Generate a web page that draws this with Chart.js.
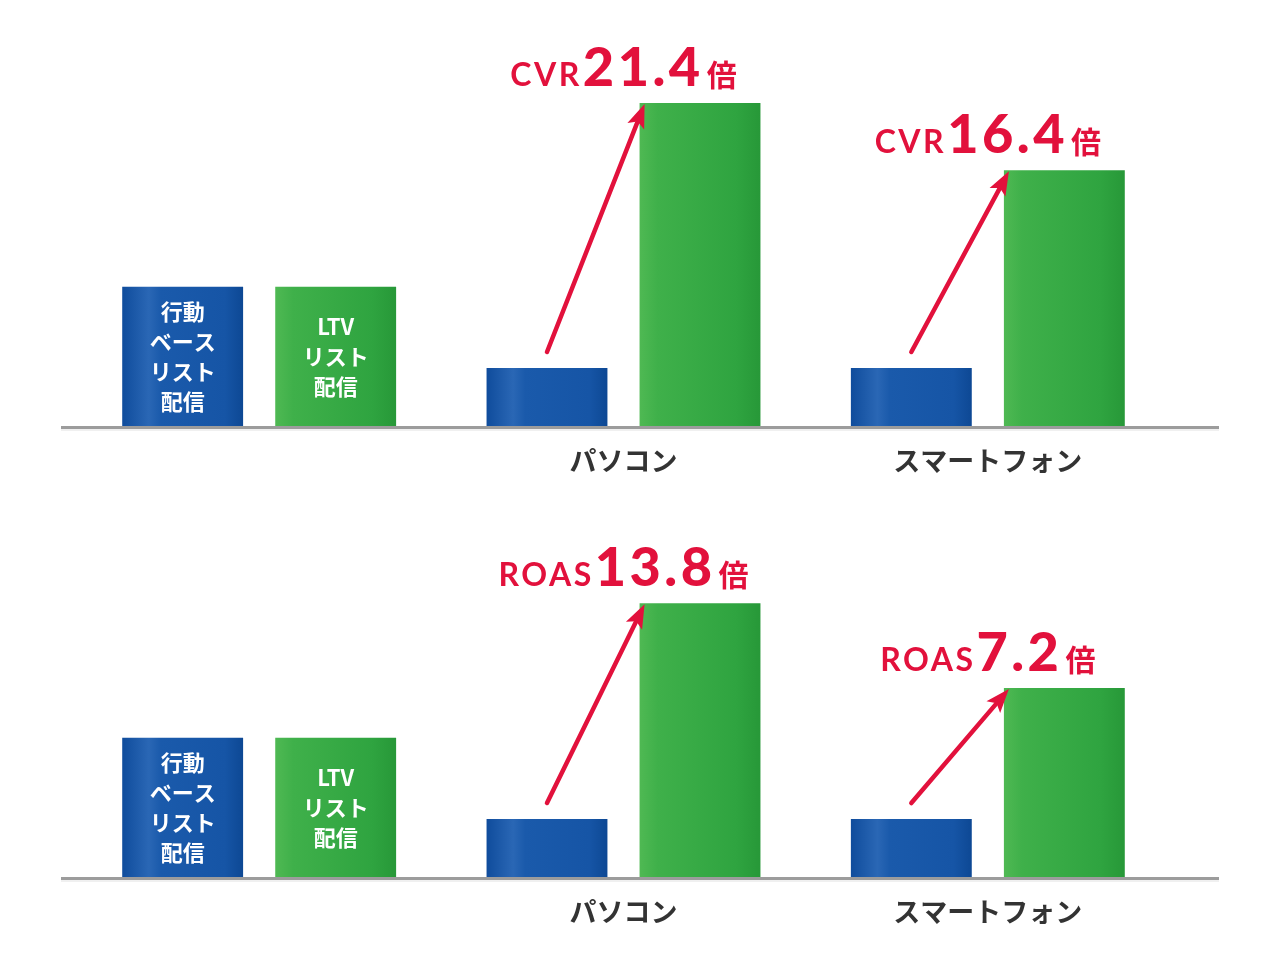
<!DOCTYPE html>
<html><head><meta charset="utf-8">
<script src="https://cdn.jsdelivr.net/npm/chart.js@4.4.1/dist/chart.umd.min.js"></script>
<style>
html,body{margin:0;padding:0;background:#fff;}
#wrap{position:relative;width:1280px;height:974px;overflow:hidden;}
canvas{position:absolute;left:0;}
#c1{top:0;} #c2{top:487px;}
</style></head>
<body><div id="wrap"><canvas id="c1" width="1280" height="487"></canvas><canvas id="c2" width="1280" height="487"></canvas></div>
<script>
// ---- data ----
const categories = ['', 'パソコン', 'スマートフォン'];
const baseSeriesName = '行動ベースリスト配信';
const ltvSeriesName = 'LTVリスト配信';
const cvrBase = [2.40, 1.00, 1.00];
const cvrLtv = [2.40, 5.57, 4.41];
const roasBase = [2.40, 1.00, 1.00];
const roasLtv = [2.40, 4.72, 3.26];
const cvrMetric = 'CVR';
const cvrMultipliers = ['', '21.4', '16.4'];
const roasMetric = 'ROAS';
const roasMultipliers = ['', '13.8', '7.2'];
const baseLabelLines = ['行動', 'ベース', 'リスト', '配信'];
const ltvLabelLines = ['LTV', 'リスト', '配信'];

const CAT_PCT = 0.84, BAR_PCT = 0.79;
const RED = '#e2113c';
const blueStops = [[0,'#0f4c9c'],[0.22,'#2a67b5'],[0.32,'#1a5aab'],[0.85,'#1655a6'],[1,'#0d4894']];
const greenStops = [[0,'#4fb953'],[0.15,'#3fb04a'],[0.8,'#2fa440'],[1,'#279838']];

function barGradient(ctx, dsIndex, stops) {
  const chart = ctx.chart, xs = chart.scales.x;
  if (ctx.dataIndex === undefined || !xs || !chart.chartArea) return stops[2][1];
  const catW = (xs.right - xs.left) / categories.length;
  const slot = catW * CAT_PCT / 2, bw = slot * BAR_PCT;
  const cx = xs.getPixelForValue(ctx.dataIndex) + (dsIndex === 0 ? -slot / 2 : slot / 2);
  const g = chart.ctx.createLinearGradient(cx - bw / 2, 0, cx + bw / 2, 0);
  stops.forEach(s => g.addColorStop(s[0], s[1]));
  return g;
}

const baselinePlugin = {
  id: 'baseline',
  beforeDatasetsDraw(chart) {
    const c = chart.ctx, y = chart.scales.y.getPixelForValue(0) + 1.5;
    c.save();
    c.strokeStyle = '#9c9c9c'; c.lineWidth = 3;
    c.beginPath(); c.moveTo(61, y); c.lineTo(1219, y); c.stroke();
    c.strokeStyle = 'rgba(0,0,0,0.06)'; c.lineWidth = 2;
    c.beginPath(); c.moveTo(61, y + 2.5); c.lineTo(1219, y + 2.5); c.stroke();
    c.restore();
  }
};

const annotPlugin = {
  id: 'annot',
  afterDatasetsDraw(chart, args, opts) {
    const c = chart.ctx;
    const b0 = chart.getDatasetMeta(0).data[0], g0 = chart.getDatasetMeta(1).data[0];
    c.save();
    c.fillStyle = '#ffffff';
    c.font = 'bold 22px "Noto Sans CJK JP", sans-serif';
    c.textAlign = 'center'; c.textBaseline = 'middle';
    [[b0, baseLabelLines], [g0, ltvLabelLines]].forEach(([el, lines]) => {
      const mid = (el.y + el.base) / 2, lh = 30;
      lines.forEach((t, k) => c.fillText(t, el.x, mid + (k - (lines.length - 1) / 2) * lh));
    });
    c.restore();
    for (let i = 1; i < categories.length; i++) {
      const b = chart.getDatasetMeta(0).data[i], g = chart.getDatasetMeta(1).data[i];
      const x0 = b.x, y0 = b.y - 16;
      const x1 = g.x - g.width / 2 + 5, y1 = g.y + 1;
      const ang = Math.atan2(y1 - y0, x1 - x0);
      const hl = 24, hw = 9;
      const bx = x1 - hl * Math.cos(ang), by = y1 - hl * Math.sin(ang);
      c.save();
      c.strokeStyle = RED; c.fillStyle = RED; c.lineWidth = 4.5; c.lineCap = 'round';
      c.beginPath(); c.moveTo(x0, y0); c.lineTo(bx + 4 * Math.cos(ang), by + 4 * Math.sin(ang)); c.stroke();
      c.beginPath();
      c.moveTo(x1, y1);
      c.lineTo(bx + hw * Math.sin(ang), by - hw * Math.cos(ang));
      c.lineTo(bx + 5 * Math.cos(ang), by + 5 * Math.sin(ang));
      c.lineTo(bx - hw * Math.sin(ang), by + hw * Math.cos(ang));
      c.closePath(); c.fill();
      const parts = [
        {t: opts.metric, f: 'bold 32px Lato, "Noto Sans", sans-serif', ls: '2.5px', gap: 1},
        {t: opts.values[i], f: '900 54px Lato, "Noto Sans", sans-serif', ls: '3.5px', gap: 3},
        {t: '倍', f: 'bold 30px "Noto Sans CJK JP", sans-serif', ls: '0px', gap: 0}
      ];
      let total = 0;
      parts.forEach(p => { c.font = p.f; c.letterSpacing = p.ls; p.w = c.measureText(p.t).width; total += p.w + p.gap; });
      let x = chart.scales.x.getPixelForValue(i) - total / 2;
      const yb = g.y - 17;
      c.textAlign = 'left'; c.textBaseline = 'alphabetic';
      parts.forEach(p => { c.font = p.f; c.letterSpacing = p.ls; c.fillText(p.t, x, yb); x += p.w + p.gap; });
      c.restore();
    }
  }
};

function makeChart(id, baseVals, ltvVals, metric, values, padTop, padBottom) {
  return new Chart(document.getElementById(id), {
    type: 'bar',
    data: {
      labels: categories,
      datasets: [
        {label: baseSeriesName, data: baseVals, backgroundColor: ctx => barGradient(ctx, 0, blueStops),
         categoryPercentage: CAT_PCT, barPercentage: BAR_PCT, borderWidth: 0},
        {label: ltvSeriesName, data: ltvVals, backgroundColor: ctx => barGradient(ctx, 1, greenStops),
         categoryPercentage: CAT_PCT, barPercentage: BAR_PCT, borderWidth: 0}
      ]
    },
    options: {
      responsive: false, devicePixelRatio: 1, animation: false,
      layout: {padding: {left: 77, right: 110, top: padTop, bottom: padBottom}},
      plugins: {legend: {display: false}, tooltip: {enabled: false}, annot: {metric, values}},
      scales: {
        x: {
          grid: {display: false, drawTicks: false}, border: {display: false},
          ticks: {color: '#333333', padding: 19, font: {family: '"Noto Sans CJK JP", sans-serif', size: 27, weight: 'bold'}},
          afterFit(s) { s.height = 61; }
        },
        y: {display: false, min: 0, max: 6}
      }
    },
    plugins: [baselinePlugin, annotPlugin]
  });
}
makeChart('c1', cvrBase, cvrLtv, cvrMetric, cvrMultipliers, 78, 0);
makeChart('c2', roasBase, roasLtv, roasMetric, roasMultipliers, 42, 36);
</script></body></html>
